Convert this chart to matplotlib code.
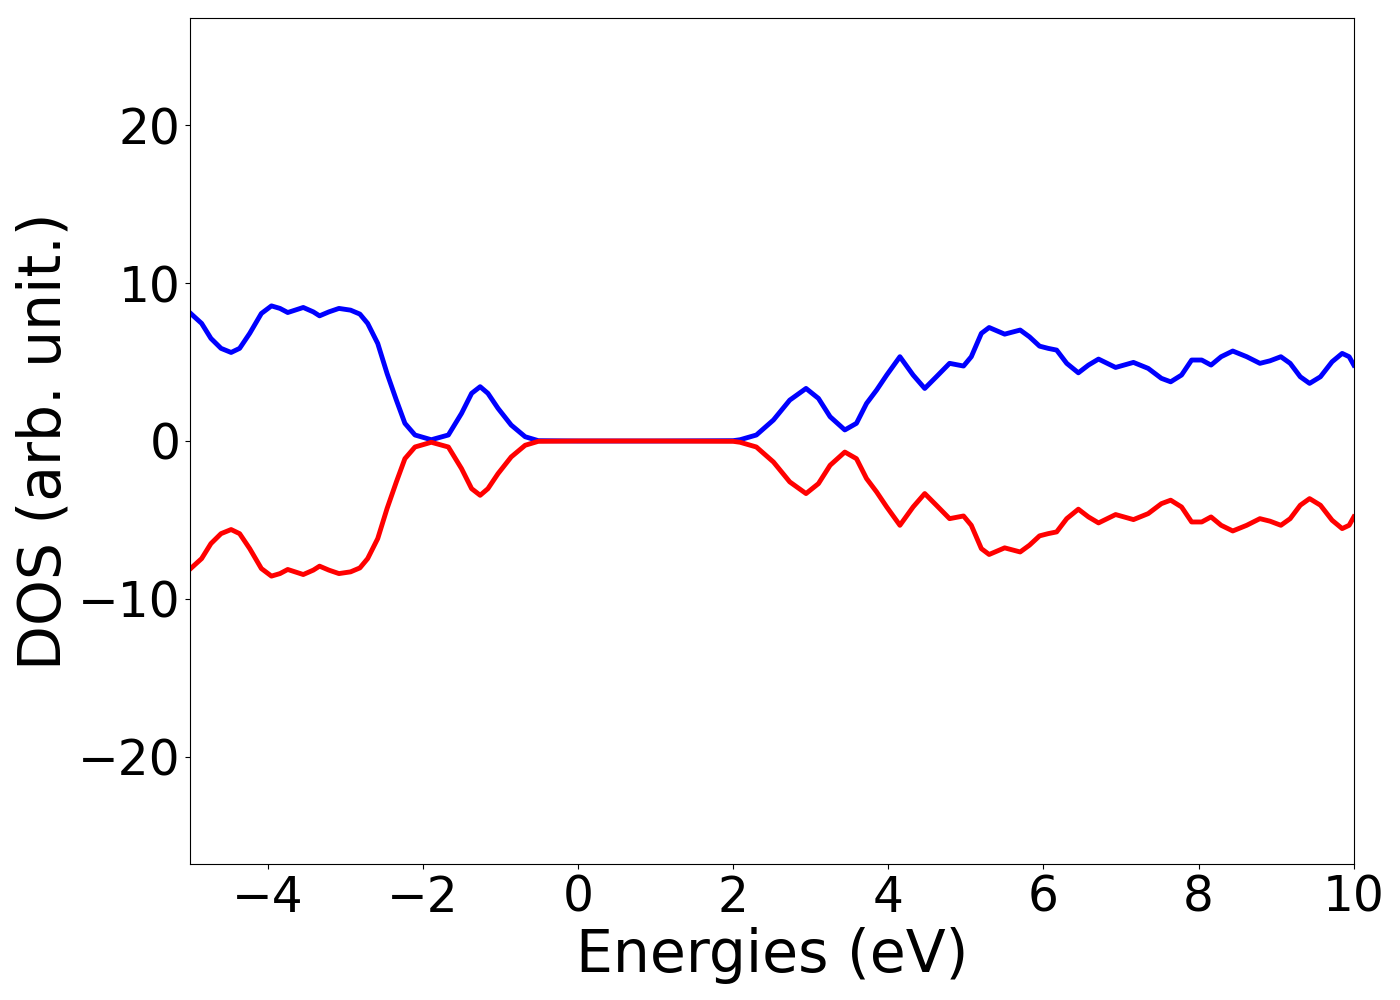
import numpy as np
import matplotlib
matplotlib.use('Agg')
import matplotlib.pyplot as plt

# 能量 (eV) 与自旋向上 / 向下的态密度, 读自原图
energies = [-5.00, -4.85, -4.73, -4.60, -4.47, -4.36, -4.23, -4.08, -3.95, -3.84,
            -3.74, -3.64, -3.54, -3.41, -3.33, -3.21, -3.08, -2.93, -2.81, -2.71,
            -2.58, -2.46, -2.34, -2.23, -2.10, -1.89, -1.67, -1.50, -1.37, -1.26,
            -1.16, -1.03, -0.86, -0.68, -0.51, 0.00, 1.00, 2.00, 2.09, 2.30,
            2.52, 2.73, 2.94, 3.10, 3.25, 3.44, 3.59, 3.72, 3.85, 3.98,
            4.15, 4.32, 4.47, 4.62, 4.79, 4.97, 5.07, 5.20, 5.30, 5.50,
            5.70, 5.82, 5.95, 6.06, 6.17, 6.30, 6.45, 6.58, 6.71, 6.93,
            7.16, 7.35, 7.52, 7.64, 7.78, 7.91, 8.04, 8.16, 8.29, 8.44,
            8.62, 8.79, 8.92, 9.06, 9.18, 9.31, 9.43, 9.57, 9.72, 9.85,
            9.94, 10.00]

dos_up = [8.12, 7.45, 6.50, 5.87, 5.61, 5.87, 6.82, 8.08, 8.56, 8.40,
          8.14, 8.30, 8.46, 8.18, 7.93, 8.18, 8.40, 8.29, 8.04, 7.45,
          6.18, 4.28, 2.59, 1.12, 0.38, 0.08, 0.38, 1.75, 3.02, 3.44,
          3.02, 2.07, 1.01, 0.27, 0.02, 0.00, 0.00, 0.02, 0.08, 0.38,
          1.33, 2.59, 3.33, 2.70, 1.54, 0.70, 1.12, 2.38, 3.23, 4.18,
          5.34, 4.18, 3.33, 4.07, 4.92, 4.75, 5.34, 6.82, 7.19, 6.77,
          7.03, 6.60, 6.01, 5.87, 5.76, 4.92, 4.32, 4.81, 5.19, 4.66,
          4.98, 4.60, 3.97, 3.75, 4.18, 5.13, 5.13, 4.81, 5.34, 5.70,
          5.34, 4.92, 5.08, 5.34, 4.92, 4.07, 3.65, 4.07, 5.02, 5.55,
          5.34, 4.81]

dos_down = [-8.12, -7.45, -6.50, -5.87, -5.61, -5.87, -6.82, -8.08, -8.56, -8.40,
            -8.14, -8.30, -8.46, -8.18, -7.93, -8.18, -8.40, -8.29, -8.04, -7.45,
            -6.18, -4.28, -2.59, -1.12, -0.38, -0.08, -0.38, -1.75, -3.02, -3.44,
            -3.02, -2.07, -1.01, -0.27, -0.02, 0.00, 0.00, -0.02, -0.08, -0.38,
            -1.33, -2.59, -3.33, -2.70, -1.54, -0.70, -1.12, -2.38, -3.23, -4.18,
            -5.34, -4.18, -3.33, -4.07, -4.92, -4.75, -5.34, -6.82, -7.19, -6.77,
            -7.03, -6.60, -6.01, -5.87, -5.76, -4.92, -4.32, -4.81, -5.19, -4.66,
            -4.98, -4.60, -3.97, -3.75, -4.18, -5.13, -5.13, -4.81, -5.34, -5.70,
            -5.34, -4.92, -5.08, -5.34, -4.92, -4.07, -3.65, -4.07, -5.02, -5.55,
            -5.34, -4.81]

fig = plt.figure(figsize=(14, 10), dpi=100)
ax = fig.add_axes([0.1357, 0.136, 0.8313, 0.846])
ax.plot(energies, dos_up, color='blue', linewidth=3.5, solid_joinstyle='round')
ax.plot(energies, dos_down, color='red', linewidth=3.5, solid_joinstyle='round')

ax.set_xlim(-5, 10)
ax.set_ylim(-26.8, 26.8)
ax.set_xticks([-4, -2, 0, 2, 4, 6, 8, 10])
ax.set_yticks([-20, -10, 0, 10, 20])
ax.tick_params(labelsize=35)
ax.set_xlabel('Energies (eV)', fontsize=42)
ax.set_ylabel('DOS (arb. unit.)', fontsize=42)

fig.savefig('out.png', dpi=100)
